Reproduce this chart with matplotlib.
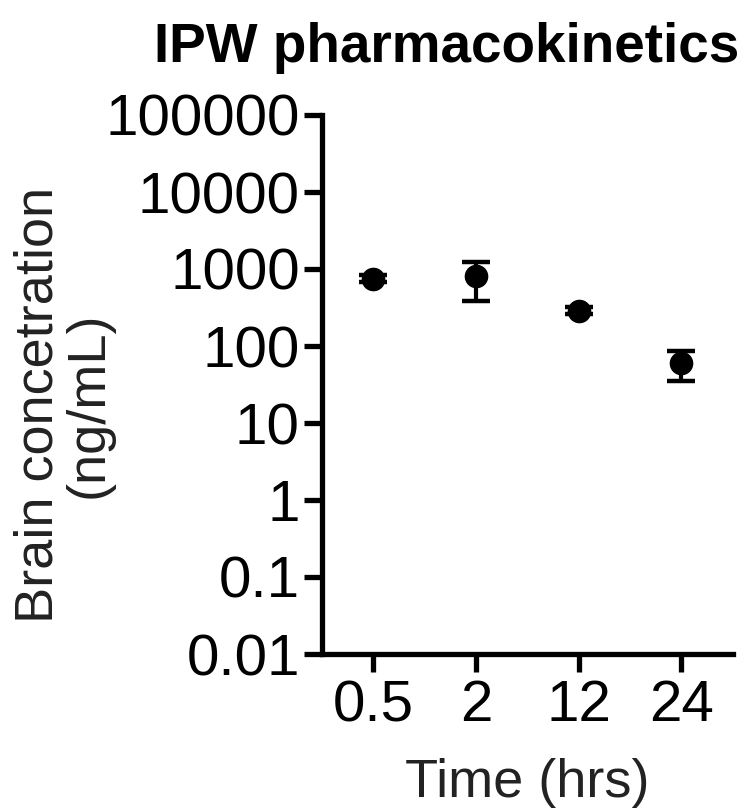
import matplotlib
matplotlib.use("Agg")
import matplotlib.pyplot as plt
import numpy as np

plt.rcParams['font.family'] = ['Liberation Sans', 'DejaVu Sans']

time_labels = ["0.5", "2", "12", "24"]
mean_conc = [750, 810, 287, 60]
sd_conc = [80, 430, 30, 25]
ytick_vals = [0.01, 0.1, 1, 10, 100, 1000, 10000, 100000]
ytick_labels = ["0.01", "0.1", "1", "10", "100", "1000", "10000", "100000"]

fig = plt.figure(figsize=(7.46, 8.08), dpi=100)
ax = fig.add_axes([322/746, 1-654/808, (732.5-322)/746, (654-115)/808])

x = np.arange(len(time_labels))
ax.errorbar(x, mean_conc, yerr=sd_conc, fmt='o', color='black', ms=16,
            elinewidth=3, capsize=10, capthick=3.2, zorder=3)

ax.set_yscale('log')
ax.set_ylim(0.01, 100000)
ax.set_xlim(-0.5, 3.5)
ax.set_yticks(ytick_vals)
ax.set_yticklabels(ytick_labels)
ax.yaxis.set_minor_locator(matplotlib.ticker.NullLocator())
ax.set_xticks(x)
ax.set_xticklabels(time_labels)

for s in ['top', 'right']:
    ax.spines[s].set_visible(False)
for s in ['left', 'bottom']:
    ax.spines[s].set_linewidth(3.8)
ax.tick_params(axis='both', width=3.8, length=13, labelsize=42, color='black')
ax.tick_params(axis='y', pad=3)
ax.tick_params(axis='x', pad=5)

ax.set_xlabel("Time (hrs)", fontsize=39, labelpad=18, color='#222222')
fig.text(64/746, 1-405/808, "Brain concetration\n(ng/mL)", rotation=90,
         ha='center', va='center', fontsize=39, color='#222222',
         multialignment='center', linespacing=1.0)
fig.text(447/746, 1-22/808, "IPW pharmacokinetics", ha='center', va='top',
         fontsize=39.5, fontweight='bold')

fig.savefig("out.png", dpi=100)
